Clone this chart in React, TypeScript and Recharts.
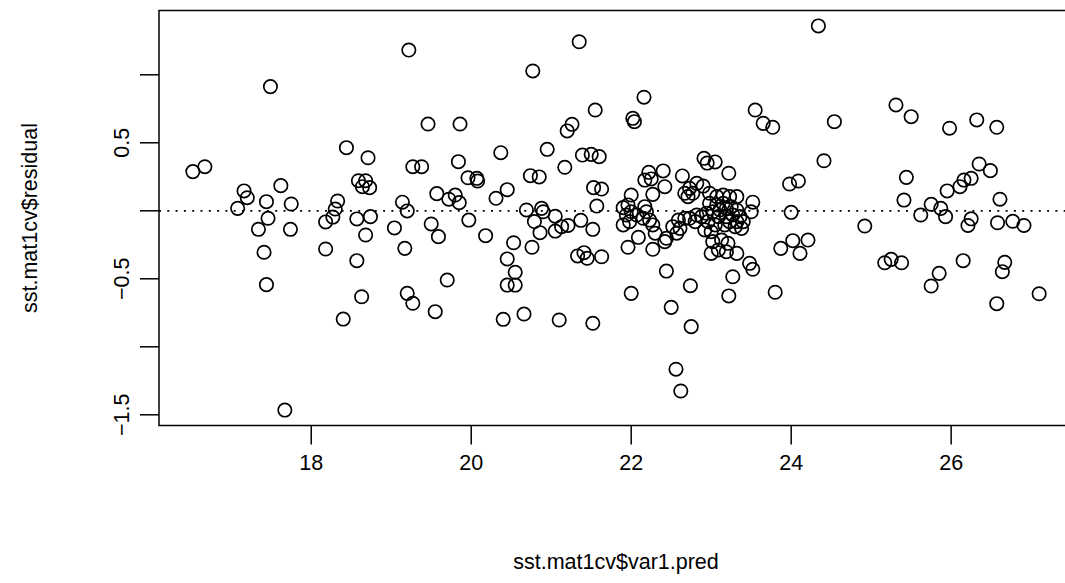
import { ScatterChart, Scatter, XAxis, YAxis, ReferenceLine, ReferenceArea } from 'recharts'

// residuals vs predicted in four vertical bands
const predLeft = [17.49, 16.52, 16.67, 18.44, 18.71, 17.16, 17.2, 17.62, 17.08, 17.44, 17.75, 18.33, 18.3, 18.27, 18.18, 17.46, 18.59, 18.68, 18.64, 18.73, 18.57, 18.74, 17.34, 17.74, 18.68, 17.41, 18.18, 18.57, 17.44, 18.63, 18.4, 17.67]
const residLeft = [0.913, 0.288, 0.324, 0.464, 0.39, 0.146, 0.096, 0.185, 0.018, 0.067, 0.05, 0.072, 0.013, -0.046, -0.082, -0.055, 0.221, 0.221, 0.177, 0.17, -0.06, -0.043, -0.136, -0.136, -0.178, -0.305, -0.281, -0.367, -0.543, -0.632, -0.796, -1.465]

const predMid = [19.22, 20.77, 21.35, 19.46, 19.86, 21.55, 21.26, 21.2, 19.27, 19.38, 19.84, 20.37, 20.95, 21.17, 21.39, 21.5, 21.6, 19.96, 20.07, 20.08, 20.74, 20.85, 19.57, 19.72, 19.8, 19.85, 20.31, 20.45, 19.14, 19.2, 21.53, 21.63, 21.57, 20.69, 20.88, 20.9, 21.05, 19.97, 19.5, 19.04, 20.79, 21.21, 21.37, 21.52, 19.59, 20.18, 19.17, 19.7, 19.2, 19.27, 19.55, 20.86, 21.05, 21.13, 20.53, 20.76, 20.45, 20.55, 20.45, 20.55, 20.4, 20.66, 21.1, 21.52, 21.33, 21.41, 21.45, 21.63]
const residMid = [1.182, 1.028, 1.243, 0.638, 0.638, 0.741, 0.636, 0.587, 0.324, 0.324, 0.361, 0.427, 0.452, 0.32, 0.41, 0.415, 0.398, 0.243, 0.239, 0.219, 0.258, 0.249, 0.126, 0.085, 0.116, 0.06, 0.092, 0.155, 0.063, -0.001, 0.17, 0.16, 0.035, 0.006, 0.018, -0.007, -0.04, -0.068, -0.097, -0.126, -0.079, -0.108, -0.07, -0.136, -0.19, -0.183, -0.276, -0.509, -0.607, -0.68, -0.742, -0.161, -0.149, -0.117, -0.235, -0.268, -0.354, -0.452, -0.546, -0.546, -0.798, -0.759, -0.803, -0.827, -0.332, -0.308, -0.349, -0.338]

const predCenter = [22.16, 22.02, 22.04, 23.55, 23.65, 23.77, 24.34, 24.41, 22.91, 22.95, 23.05, 23.22, 22.22, 22.4, 22.17, 22.25, 22.42, 22.27, 22.64, 23.98, 24.09, 23.52, 23.5, 24.0, 22.0, 21.9, 21.96, 22.0, 22.07, 22.17, 22.19, 22.82, 22.9, 22.73, 22.67, 22.71, 22.77, 22.98, 23.07, 23.15, 23.23, 23.32, 22.98, 23.07, 23.15, 23.19, 23.25, 23.32, 23.11, 23.02, 22.94, 22.88, 23.09, 23.19, 23.27, 23.36, 23.23, 23.32, 23.4, 22.96, 23.05, 23.17, 23.3, 23.38, 22.92, 23.0, 22.59, 22.67, 22.52, 22.61, 22.57, 22.44, 22.73, 22.8, 23.02, 23.13, 23.21, 23.87, 21.94, 21.9, 21.98, 22.15, 22.23, 22.27, 22.3, 22.09, 21.96, 22.27, 22.42, 22.82, 23.0, 23.09, 23.19, 23.32, 23.48, 23.52, 23.27, 23.22, 23.8, 24.02, 24.21, 24.11, 22.44, 22.74, 22.0, 22.5, 22.75, 22.56, 22.62]
const residCenter = [0.835, 0.68, 0.655, 0.741, 0.643, 0.614, 1.359, 0.368, 0.386, 0.351, 0.359, 0.276, 0.283, 0.293, 0.226, 0.234, 0.177, 0.121, 0.256, 0.197, 0.219, 0.063, -0.007, -0.011, 0.116, 0.023, 0.043, -0.007, -0.031, 0.03, -0.007, 0.202, 0.182, 0.165, 0.129, 0.104, 0.129, 0.129, 0.104, 0.116, 0.104, 0.104, 0.055, 0.043, 0.055, 0.018, 0.03, 0.006, 0.006, -0.007, -0.018, -0.043, -0.043, -0.043, -0.031, -0.043, -0.08, -0.08, -0.08, -0.08, -0.104, -0.104, -0.117, -0.129, -0.141, -0.154, -0.068, -0.055, -0.117, -0.129, -0.165, -0.202, -0.055, -0.08, -0.227, -0.215, -0.239, -0.276, -0.031, -0.104, -0.08, -0.055, -0.068, -0.104, -0.165, -0.195, -0.268, -0.283, -0.227, -0.031, -0.313, -0.288, -0.301, -0.313, -0.386, -0.43, -0.485, -0.626, -0.599, -0.22, -0.215, -0.313, -0.443, -0.551, -0.607, -0.71, -0.852, -1.165, -1.325]

const predRight = [24.54, 25.31, 25.5, 25.98, 26.32, 26.57, 25.44, 25.41, 26.35, 26.49, 26.25, 26.16, 26.11, 25.95, 26.61, 25.75, 25.62, 25.87, 25.93, 26.25, 26.21, 26.58, 26.77, 26.91, 24.92, 25.17, 25.25, 25.38, 25.85, 25.75, 26.15, 26.67, 26.64, 26.57, 27.1]
const residRight = [0.655, 0.778, 0.692, 0.607, 0.668, 0.614, 0.246, 0.079, 0.344, 0.295, 0.239, 0.226, 0.177, 0.146, 0.085, 0.048, -0.031, 0.018, -0.043, -0.059, -0.108, -0.088, -0.077, -0.108, -0.112, -0.382, -0.357, -0.382, -0.46, -0.553, -0.367, -0.379, -0.448, -0.683, -0.61]

const xTicks = [18, 20, 22, 24, 26]
const yTicks = [-1.5, -1, -0.5, 0, 0.5, 1]
const yLabels = ['-1.5', '', '-0.5', '', '0.5', '']

const FONT = '"Liberation Sans", Arial, sans-serif'
const FS = 21.5

const xs = [...predLeft, ...predMid, ...predCenter, ...predRight]
const ys = [...residLeft, ...residMid, ...residCenter, ...residRight]
const points = xs.map((x, i) => ({ x, y: ys[i] }))

// base R style range: data range padded by 4% each side
function pad(v: number[]): [number, number] {
  const lo = Math.min(...v), hi = Math.max(...v)
  const d = (hi - lo) * 0.04
  return [lo - d, hi + d]
}
const xDom = pad(xs)
const yDom = pad(ys)

const Ring = (p: any) => (
  <circle cx={p.cx} cy={p.cy} r={6.7} fill="none" stroke="#000" strokeWidth={1.7} />
)

const XTick = (p: any) => (
  <text x={p.x} y={p.y} dy={26} textAnchor="middle" fontFamily={FONT} fontSize={FS} fill="#000">
    {p.payload.value}
  </text>
)

const YTick = (p: any) => {
  const i = yTicks.indexOf(p.payload.value)
  const lab = yLabels[i]
  if (!lab) return <g />
  const bx = 129.4
  return (
    <text x={bx} y={p.y} textAnchor="middle" transform={`rotate(-90, ${bx}, ${p.y})`}
      fontFamily={FONT} fontSize={FS} fill="#000">
      {lab.replace('-', '\u2212')}
    </text>
  )
}

export default function App() {
  return (
    <div style={{ position: 'absolute', left: 0, top: 0, width: 1065, height: 583, overflow: 'hidden', background: '#fff' }}>
      <ScatterChart width={1080} height={583} margin={{ top: 10.6, right: 7, bottom: 0, left: 0 }}>
        <XAxis type="number" dataKey="x" domain={xDom} ticks={xTicks} allowDataOverflow
          height={157.6} axisLine={false} tickSize={19} tickMargin={0}
          tickLine={{ stroke: '#000', strokeWidth: 1.5 }} tick={<XTick />} interval={0} />
        <YAxis type="number" dataKey="y" domain={yDom} ticks={yTicks} allowDataOverflow
          width={159} axisLine={false} tickSize={19} tickMargin={0}
          tickLine={{ stroke: '#000', strokeWidth: 1.5 }} tick={<YTick />} interval={0} />
        <ReferenceArea x1={xDom[0]} x2={xDom[1]} y1={yDom[0]} y2={yDom[1]}
          fill="none" fillOpacity={0} stroke="#000" strokeWidth={1.5} ifOverflow="visible" />
        <ReferenceLine y={0} stroke="#000" strokeWidth={1.8} strokeDasharray="2 6.3" />
        <Scatter data={points} shape={Ring} isAnimationActive={false} />
      </ScatterChart>
      <div style={{ position: 'absolute', left: 616, top: 562, transform: 'translate(-50%, -50%)',
        fontFamily: FONT, fontSize: FS, whiteSpace: 'nowrap', color: '#000' }}>
        sst.mat1cv$var1.pred
      </div>
      <div style={{ position: 'absolute', left: 30, top: 218, transform: 'translate(-50%, -50%) rotate(-90deg)',
        fontFamily: FONT, fontSize: FS, whiteSpace: 'nowrap', color: '#000' }}>
        sst.mat1cv$residual
      </div>
    </div>
  )
}
